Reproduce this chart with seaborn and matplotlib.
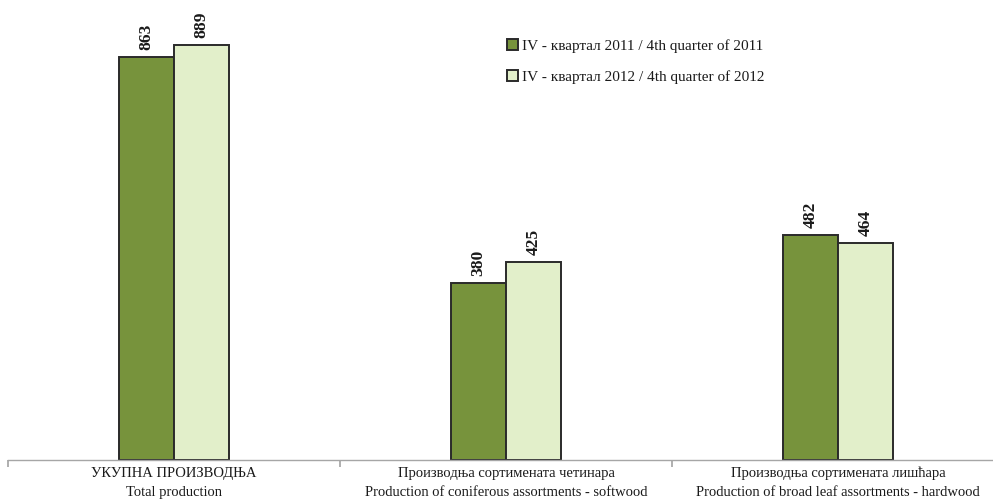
import matplotlib
matplotlib.use("Agg")
import matplotlib.pyplot as plt
import seaborn as sns
import pandas as pd

categories = ["УКУПНА ПРОИЗВОДЊА\nTotal production",
              "Производња сортимената четинара\nProduction of coniferous assortments - softwood",
              "Производња сортимената лишћара\nProduction of broad leaf assortments - hardwood"]
series_names = ["IV - квартал 2011 / 4th quarter of 2011",
                "IV - квартал 2012 / 4th quarter of 2012"]
values_2011 = [863, 380, 482]
values_2012 = [889, 425, 464]
colors = ["#77933C", "#E2EFCA"]

sns.set_theme(style="white")
plt.rcParams['font.family'] = ['Liberation Serif', 'DejaVu Serif']

df = pd.DataFrame({
    "category": categories * 2,
    "series": [series_names[0]] * 3 + [series_names[1]] * 3,
    "value": values_2011 + values_2012,
})

fig = plt.figure(figsize=(9.93, 5.0), dpi=100)
W, H = 993, 500
ax = fig.add_axes([8 / W, 1 - 460 / H, (993 - 8) / W, 460 / H])

sns.barplot(data=df, x="category", y="value", hue="series", order=categories,
            hue_order=series_names, palette=colors, width=0.33, gap=0,
            edgecolor="#2a2a2a", linewidth=1.4, saturation=1, ax=ax, legend=True)

ax.set_xlabel("")
ax.set_ylabel("")
ax.set_yticks([])

for c in ax.containers:
    for bar in c:
        h = bar.get_height()
        ax.annotate(f"{h:.0f}", (bar.get_x() + bar.get_width() / 2, h),
                    xytext=(0, 5), textcoords="offset points", rotation=90,
                    ha="center", va="bottom", fontsize=12.5, fontweight="bold",
                    color="#1a1a1a")

for s in ["top", "right", "left"]:
    ax.spines[s].set_visible(False)
ax.spines["bottom"].set_color("#A6A6A6")
ax.spines["bottom"].set_linewidth(1.0)

ax.set_xticks([-0.5, 0.5, 1.5, 2.5])
ax.set_xticklabels([])
ax.tick_params(axis="x", which="major", length=5, color="#A6A6A6", direction="out", bottom=True)
ax.set_xticks([0, 1, 2], minor=True)
ax.set_xticklabels(categories, minor=True, fontsize=10.5, color="#1a1a1a", linespacing=1.6)
ax.tick_params(axis="x", which="minor", length=0, pad=5)

ax.set_ylim(0, 460 / 0.4668)
ax.set_xlim(-0.5, 2.5 - (1004 - 993) / 332)

handles, labels = ax.get_legend_handles_labels()
leg = ax.legend(handles, labels, loc="upper left", bbox_to_anchor=(507 / W, 1 - 39 / H),
                bbox_transform=fig.transFigure, frameon=False, fontsize=11,
                handlelength=0.75, handleheight=0.75, handletextpad=0.2, labelspacing=1.1,
                borderaxespad=0, borderpad=0)
for t in leg.get_texts():
    t.set_color("#1a1a1a")

fig.savefig("out.png", dpi=100)
